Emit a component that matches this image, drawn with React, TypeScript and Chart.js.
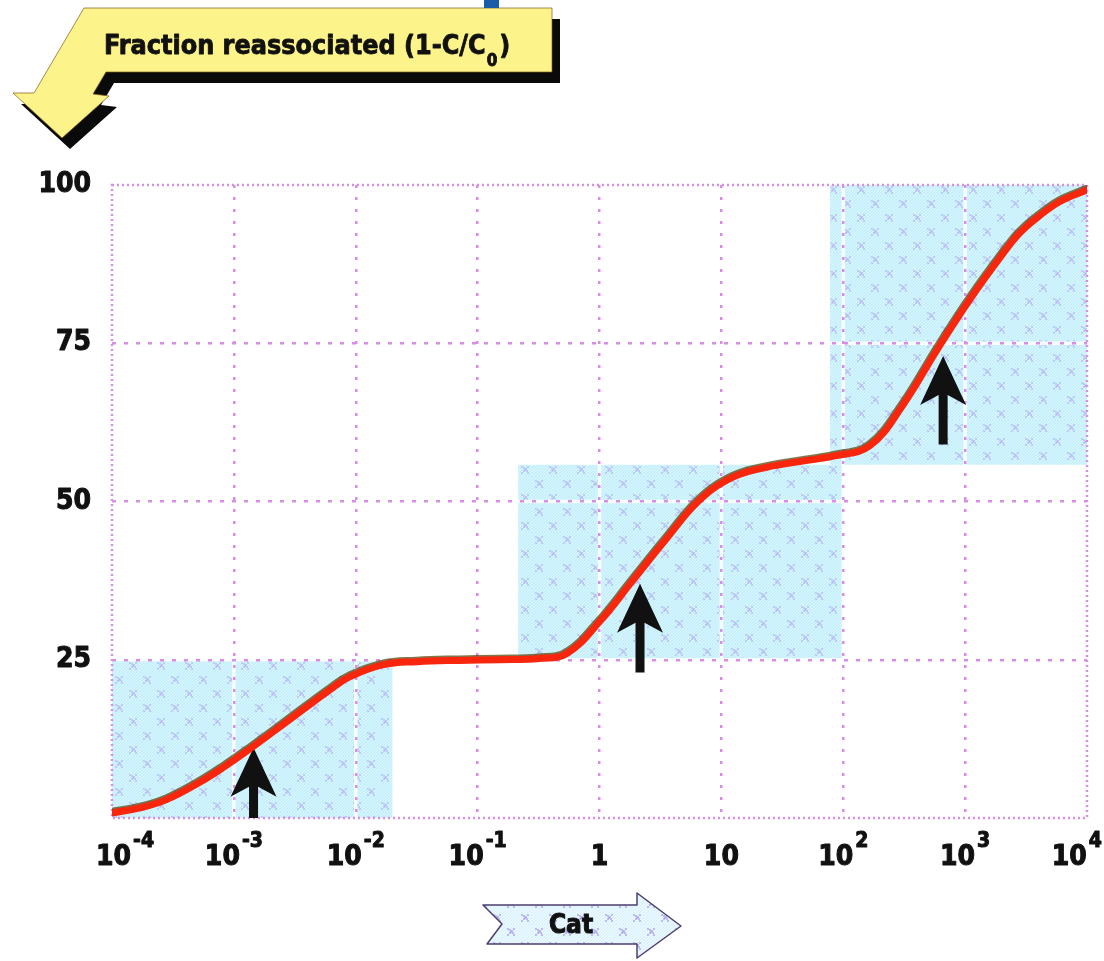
import React, { useEffect, useRef } from 'react';
import { Chart, registerables } from 'chart.js';

Chart.register(...registerables);

// ---- data ----
const catValues = [1e-4, 1.7e-4, 2.8e-4, 5.2e-4, 8.5e-4, 1.35e-3, 2.2e-3, 3.5e-3, 6.5e-3, 8.9e-3, 0.0166, 0.032, 0.071, 0.15, 0.32, 0.54, 1.0, 1.87, 3.5, 6.6, 12.3, 23.5, 44, 85, 165, 310, 590, 1100, 2050, 2800, 3870, 6000, 10000];
const fractionValues = [0.8, 1.6, 2.9, 5.6, 8.2, 10.9, 13.9, 16.8, 20.6, 22.3, 24.2, 24.7, 24.9, 25, 25.2, 26, 31, 37.5, 44, 50.2, 53.8, 55.4, 56.3, 57.2, 58.8, 65.3, 74, 82, 89.2, 92.4, 94.8, 97.4, 99.2];

const xGridValues = [1e-3, 1e-2, 1e-1, 1, 10, 100, 1e3];
const yGridValues = [25, 50, 75];
const xTickValues = [1e-4, 1e-3, 1e-2, 1e-1, 1, 10, 100, 1e3, 1e4];
const xTickBase = ['10', '10', '10', '10', '1', '10', '10', '10', '10'];
const xTickExp = ['-4', '-3', '-2', '-1', '', '', '2', '3', '4'];
const yTickValues = [25, 50, 75, 100];
const yTickLabels = ['25', '50', '75', '100'];

const boxXStart = [1e-4, 0.215, 78];
const boxXEnd = [0.02, 100, 1e4];
const boxYStart = [0, 25, 55.8];
const boxYEnd = [25, 55.8, 100];

const arrowX = [0.00145, 2.15, 660];
const arrowTipY = [11.1, 37, 73];
const arrowTailY = [0, 23, 59];

const yTitle = 'Fraction reassociated (1-C/C';
const yTitleSub = '0';
const yTitleEnd = ')';
const xTitle = 'Cat';

const FONT = '"DejaVu Sans Condensed", "DejaVu Sans", sans-serif';
const GRID = '#d98ee6';

function makePattern(ctx: CanvasRenderingContext2D, light: boolean) {
  const c = document.createElement('canvas');
  c.width = 28;
  c.height = 28;
  const p = c.getContext('2d')!;
  p.fillStyle = light ? '#dcf3fd' : '#c4effb';
  p.fillRect(0, 0, 28, 28);
  p.strokeStyle = light ? '#f2fbff' : '#ddf7ff';
  p.lineWidth = 1;
  for (let k = -28; k < 56; k += 3) {
    p.beginPath();
    p.moveTo(k, 28);
    p.lineTo(k + 28, 0);
    p.stroke();
  }
  p.fillStyle = light ? 'rgba(150,130,230,0.5)' : 'rgba(170,150,235,0.4)';
  const blot = (cx: number, cy: number) => {
    const pts = [[-3, 3], [-1, 1], [1, -1], [3, -3], [-3, -3], [3, 3], [0, 0], [-1, -2], [2, 1]];
    for (const q of pts) p.fillRect(cx + q[0], cy + q[1], 2, 2);
  };
  blot(6, 7);
  blot(20, 21);
  return ctx.createPattern(c, 'repeat')!;
}

function heavyText(ctx: CanvasRenderingContext2D, s: string, x: number, y: number) {
  ctx.fillText(s, x, y);
  ctx.strokeText(s, x, y);
}

const decorPlugin = {
  id: 'decor',
  beforeDraw(chart: any) {
    const { ctx, chartArea: a, scales } = chart;
    const x = scales.x;
    const y = scales.y;
    ctx.save();
    ctx.fillStyle = '#ffffff';
    ctx.fillRect(0, 0, chart.width, chart.height);
    ctx.fillStyle = makePattern(ctx, false);
    for (let i = 0; i < boxXStart.length; i++) {
      const x0 = x.getPixelForValue(boxXStart[i]);
      const x1 = x.getPixelForValue(boxXEnd[i]);
      const y0 = y.getPixelForValue(boxYEnd[i]);
      const y1 = y.getPixelForValue(boxYStart[i]);
      ctx.fillRect(x0, y0, x1 - x0, y1 - y0);
    }
    ctx.strokeStyle = 'rgba(255,255,255,0.85)';
    ctx.lineWidth = 3.5;
    for (const v of xGridValues) {
      const px = x.getPixelForValue(v);
      ctx.beginPath();
      ctx.moveTo(px, a.top);
      ctx.lineTo(px, a.bottom);
      ctx.stroke();
    }
    for (const v of yGridValues) {
      const py = y.getPixelForValue(v);
      ctx.beginPath();
      ctx.moveTo(a.left, py);
      ctx.lineTo(a.right, py);
      ctx.stroke();
    }
    ctx.restore();
  },
  beforeDatasetsDraw(chart: any) {
    const { ctx, chartArea: a, scales } = chart;
    const x = scales.x;
    const y = scales.y;
    ctx.save();
    ctx.strokeStyle = GRID;
    ctx.lineWidth = 2.5;
    ctx.setLineDash([2, 3]);
    ctx.strokeRect(a.left, a.top, a.right - a.left, a.bottom - a.top);
    ctx.setLineDash([]);
    ctx.fillStyle = '#111111';
    for (let i = 0; i < arrowX.length; i++) {
      const px = x.getPixelForValue(arrowX[i]);
      const tip = y.getPixelForValue(arrowTipY[i]);
      const tail = y.getPixelForValue(arrowTailY[i]);
      const headLen = 49;
      const halfW = 23;
      const sw = 4.5;
      ctx.beginPath();
      ctx.moveTo(px, tip);
      ctx.lineTo(px + halfW, tip + headLen);
      ctx.lineTo(px + sw, tip + headLen - 10);
      ctx.lineTo(px + sw, tail);
      ctx.lineTo(px - sw, tail);
      ctx.lineTo(px - sw, tip + headLen - 10);
      ctx.lineTo(px - halfW, tip + headLen);
      ctx.closePath();
      ctx.fill();
    }
    ctx.restore();
  },
  beforeDatasetDraw(chart: any) {
    const ctx = chart.ctx;
    ctx.save();
    ctx.shadowColor = 'rgba(80,60,0,0.7)';
    ctx.shadowOffsetX = -1;
    ctx.shadowOffsetY = -1.5;
    ctx.shadowBlur = 0;
  },
  afterDatasetDraw(chart: any) {
    chart.ctx.restore();
  },
  afterDraw(chart: any) {
    const { ctx, scales } = chart;
    const x = scales.x;
    const y = scales.y;
    ctx.save();
    ctx.fillStyle = '#111111';
    ctx.strokeStyle = '#111111';
    ctx.lineWidth = 1;
    ctx.lineJoin = 'round';
    ctx.font = `bold 28px ${FONT}`;
    ctx.textAlign = 'right';
    ctx.textBaseline = 'alphabetic';
    for (let i = 0; i < yTickValues.length; i++) {
      const py = y.getPixelForValue(yTickValues[i]);
      heavyText(ctx, yTickLabels[i], 91, py + 7);
    }
    ctx.textAlign = 'left';
    const baseFont = `bold 28px ${FONT}`;
    const expFont = `bold 21px ${FONT}`;
    for (let i = 0; i < xTickValues.length; i++) {
      ctx.font = baseFont;
      const wb = ctx.measureText(xTickBase[i]).width;
      ctx.font = expFont;
      const we = xTickExp[i] ? ctx.measureText(xTickExp[i]).width + 2 : 0;
      const w = wb + we;
      let left = x.getPixelForValue(xTickValues[i]) - w / 2;
      left = Math.max(96, Math.min(1102 - w, left));
      ctx.font = baseFont;
      heavyText(ctx, xTickBase[i], left, 865);
      if (xTickExp[i]) {
        ctx.font = expFont;
        heavyText(ctx, xTickExp[i], left + wb + 2, 847);
      }
    }
    // banner (y-axis title)
    const poly = [[84, 8], [552, 8], [552, 72], [106, 72], [93, 94], [109, 96], [62, 138], [13, 93], [34, 93]];
    const path = (dx: number, dy: number) => {
      ctx.beginPath();
      poly.forEach((p, k) => (k ? ctx.lineTo(p[0] + dx, p[1] + dy) : ctx.moveTo(p[0] + dx, p[1] + dy)));
      ctx.closePath();
    };
    ctx.fillStyle = '#0a0a0a';
    path(8, 11);
    ctx.fill();
    ctx.fillStyle = '#fcf38a';
    path(0, 0);
    ctx.fill();
    ctx.strokeStyle = 'rgba(130,90,20,0.7)';
    ctx.lineWidth = 1;
    ctx.stroke();
    ctx.fillStyle = '#1a5ca8';
    ctx.fillRect(484, 0, 15, 8);
    ctx.fillStyle = '#111111';
    ctx.strokeStyle = '#111111';
    ctx.lineWidth = 0.8;
    ctx.font = `bold 24px ${FONT}`;
    const w24 = ctx.measureText(yTitle).width;
    const fs = Math.round(((24 * 382) / w24) * 10) / 10;
    ctx.font = `bold ${fs}px ${FONT}`;
    heavyText(ctx, yTitle, 104, 54);
    const wt = ctx.measureText(yTitle).width;
    ctx.font = `bold 17px ${FONT}`;
    heavyText(ctx, yTitleSub, 104 + wt + 1, 66);
    const ws = ctx.measureText(yTitleSub).width;
    ctx.font = `bold ${fs}px ${FONT}`;
    heavyText(ctx, yTitleEnd, 104 + wt + ws + 3, 54);
    // Cat arrow (x-axis title)
    const cat = [[483, 905], [637, 905], [637, 893], [681, 926], [637, 958], [637, 944], [487, 944], [502, 924]];
    ctx.beginPath();
    cat.forEach((p, k) => (k ? ctx.lineTo(p[0], p[1]) : ctx.moveTo(p[0], p[1])));
    ctx.closePath();
    ctx.fillStyle = makePattern(ctx, true);
    ctx.fill();
    ctx.strokeStyle = '#4d3f6e';
    ctx.lineWidth = 1.5;
    ctx.stroke();
    ctx.fillStyle = '#111111';
    ctx.strokeStyle = '#111111';
    ctx.lineWidth = 1;
    ctx.font = `bold 26px ${FONT}`;
    ctx.textAlign = 'center';
    ctx.textBaseline = 'middle';
    heavyText(ctx, xTitle, 571, 926);
    ctx.restore();
  },
};

export default function App() {
  const ref = useRef<HTMLCanvasElement>(null);
  useEffect(() => {
    document.body.style.margin = '0';
    const canvas = ref.current!;
    const chart = new Chart(canvas, {
      type: 'line',
      data: {
        datasets: [
          {
            data: catValues.map((c, i) => ({ x: c, y: fractionValues[i] })),
            borderColor: '#f8260c',
            borderWidth: 7,
            pointRadius: 0,
            tension: 0.4,
            fill: false,
            borderCapStyle: 'round',
            borderJoinStyle: 'round',
          } as any,
        ],
      },
      options: {
        responsive: false,
        animation: false,
        events: [],
        layout: { padding: { left: 112, right: 17, top: 185, bottom: 143 } },
        plugins: {
          legend: { display: false },
          tooltip: { enabled: false },
          title: { display: false },
        },
        scales: {
          x: {
            type: 'logarithmic',
            min: 1e-4,
            max: 1e4,
            afterBuildTicks: (s: any) => {
              s.ticks = xGridValues.map((v) => ({ value: v }));
            },
            ticks: { display: false },
            grid: { color: GRID, lineWidth: 2.5, drawTicks: false },
            border: { display: false, dash: [3, 9] },
          },
          y: {
            type: 'linear',
            min: 0,
            max: 100,
            afterBuildTicks: (s: any) => {
              s.ticks = yGridValues.map((v) => ({ value: v }));
            },
            ticks: { display: false },
            grid: { color: GRID, lineWidth: 2.5, drawTicks: false },
            border: { display: false, dash: [4, 8] },
          },
        } as any,
      },
      plugins: [decorPlugin as any],
    });
    return () => chart.destroy();
  }, []);
  return (
    <div style={{ position: 'absolute', left: 0, top: 0, width: 1104, height: 961 }}>
      <canvas ref={ref} width={1104} height={961} style={{ display: 'block' }} />
    </div>
  );
}
